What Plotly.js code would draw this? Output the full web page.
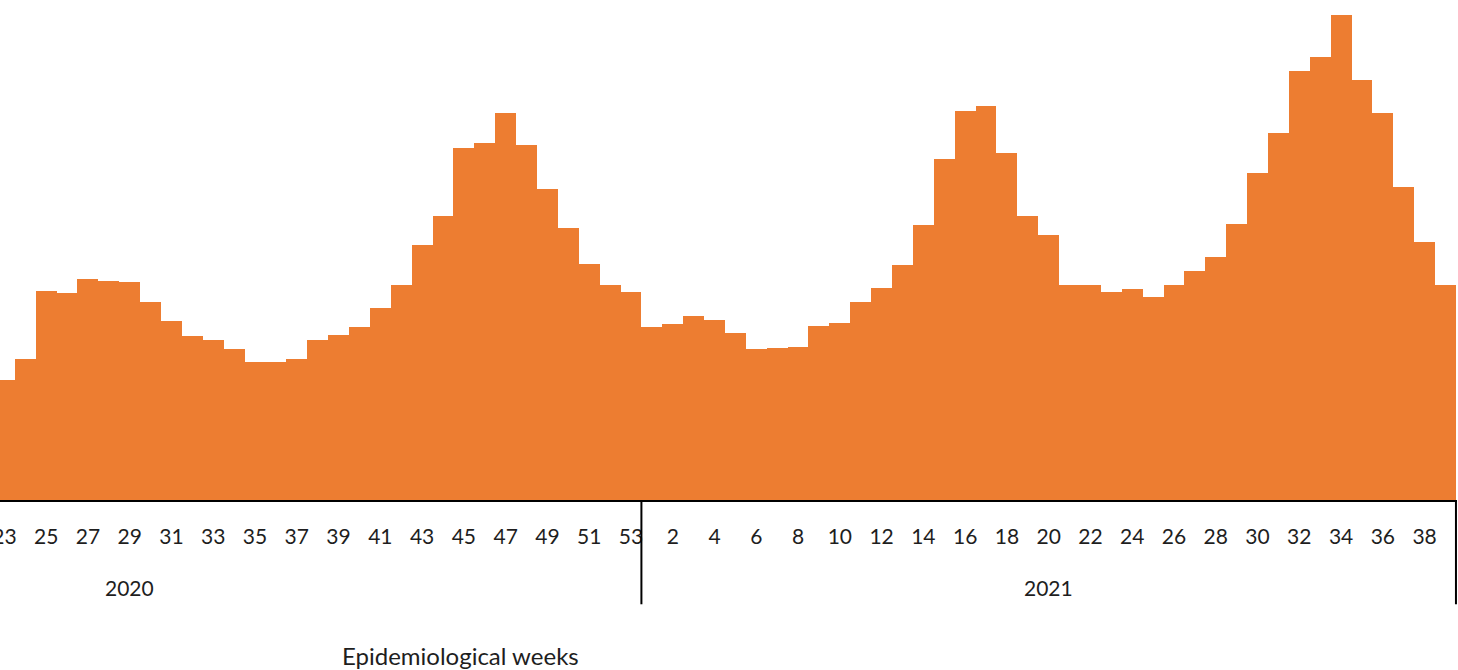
<!DOCTYPE html>
<html>
<head>
<meta charset="utf-8">
<script src="https://cdn.plot.ly/plotly-3.0.1.min.js"></script>
<style>html,body{margin:0;padding:0;background:#fff;}#chart{width:1458px;height:670px;}</style>
</head>
<body>
<div id="chart"></div>
<script>
// Epidemiological weeks shown
const weeks2020 = [23,24,25,26,27,28,29,30,31,32,33,34,35,36,37,38,39,40,41,42,43,44,45,46,47,48,49,50,51,52,53];
const weeks2021 = [1,2,3,4,5,6,7,8,9,10,11,12,13,14,15,16,17,18,19,20,21,22,23,24,25,26,27,28,29,30,31,32,33,34,35,36,37,38,39];
// Weekly values (arbitrary units, no y axis shown in the reference)
const values2020 = [120,141,209,207,221,219,218,198,179,164,160,151,138,138,141,160,165,173,192,215,255,284,352,357,387,355,311,272,236,215,208];
const values2021 = [173,176,184,180,167,151,152,153,174,177,198,212,235,275,341,389,394,347,284,265,215,215,208,211,203,215,229,243,276,327,367,429,443,485,420,387,313,258,215];
const yearLabels = ["2020","2021"];
const axisTitle = "Epidemiological weeks";

const n2020 = weeks2020.length, n2021 = weeks2021.length;
const x = [], y = [], tickvals = [], ticktext = [];
weeks2020.forEach((w,i)=>{ x.push(i); y.push(values2020[i]); if (w % 2 === 1){ tickvals.push(i); ticktext.push(String(w)); } });
weeks2021.forEach((w,i)=>{ const k = n2020 + i; x.push(k); y.push(values2021[i]); if (w % 2 === 0){ tickvals.push(k); ticktext.push(String(w)); } });

const total = n2020 + n2021;
const FONT = "Lato, 'Open Sans', sans-serif";
const TXT = '#1e1e1e';

const trace = {
  type: 'bar', x: x, y: y,
  marker: {color: '#ED7D31', line: {width: 0}},
  hoverinfo: 'skip'
};

const sepDepth = -0.215;
const layout = {
  width: 1458, height: 670,
  margin: {l: 0, r: 1, t: 15, b: 170, pad: 0},
  paper_bgcolor: '#fff', plot_bgcolor: '#fff',
  bargap: 0,
  showlegend: false,
  xaxis: {
    range: [-0.21, total - 0.5 + 0.05],
    tickmode: 'array', tickvals: tickvals, ticktext: ticktext,
    ticks: '', showgrid: false, zeroline: false,
    showline: true, linecolor: '#000', linewidth: 2,
    tickfont: {family: FONT, size: 21, color: TXT},
    ticklabelstandoff: 17,
    ticklabeloverflow: 'allow',
    fixedrange: true
  },
  yaxis: {
    range: [0, 485], visible: false, showgrid: false, zeroline: false, fixedrange: true
  },
  shapes: [
    {type: 'line', xref: 'x', yref: 'paper', x0: n2020 - 0.5, x1: n2020 - 0.5, y0: 0, y1: sepDepth, line: {color: '#000', width: 2}},
    {type: 'line', xref: 'x', yref: 'paper', x0: total - 0.5, x1: total - 0.5, y0: 0, y1: sepDepth, line: {color: '#000', width: 2}}
  ],
  annotations: [
    {xref: 'x', yref: 'paper', x: 6, y: -0.18, text: yearLabels[0], showarrow: false, xanchor: 'center', yanchor: 'middle', font: {family: FONT, size: 21, color: TXT}},
    {xref: 'x', yref: 'paper', x: n2020 + (n2021 - 1) / 2, y: -0.18, text: yearLabels[1], showarrow: false, xanchor: 'center', yanchor: 'middle', font: {family: FONT, size: 21, color: TXT}},
    {xref: 'paper', yref: 'paper', x: 460/1457, y: -0.32, text: axisTitle, showarrow: false, xanchor: 'center', yanchor: 'middle', font: {family: FONT, size: 24, color: TXT}}
  ]
};

Plotly.newPlot('chart', [trace], layout, {displayModeBar: false, staticPlot: true});
</script>
</body>
</html>
